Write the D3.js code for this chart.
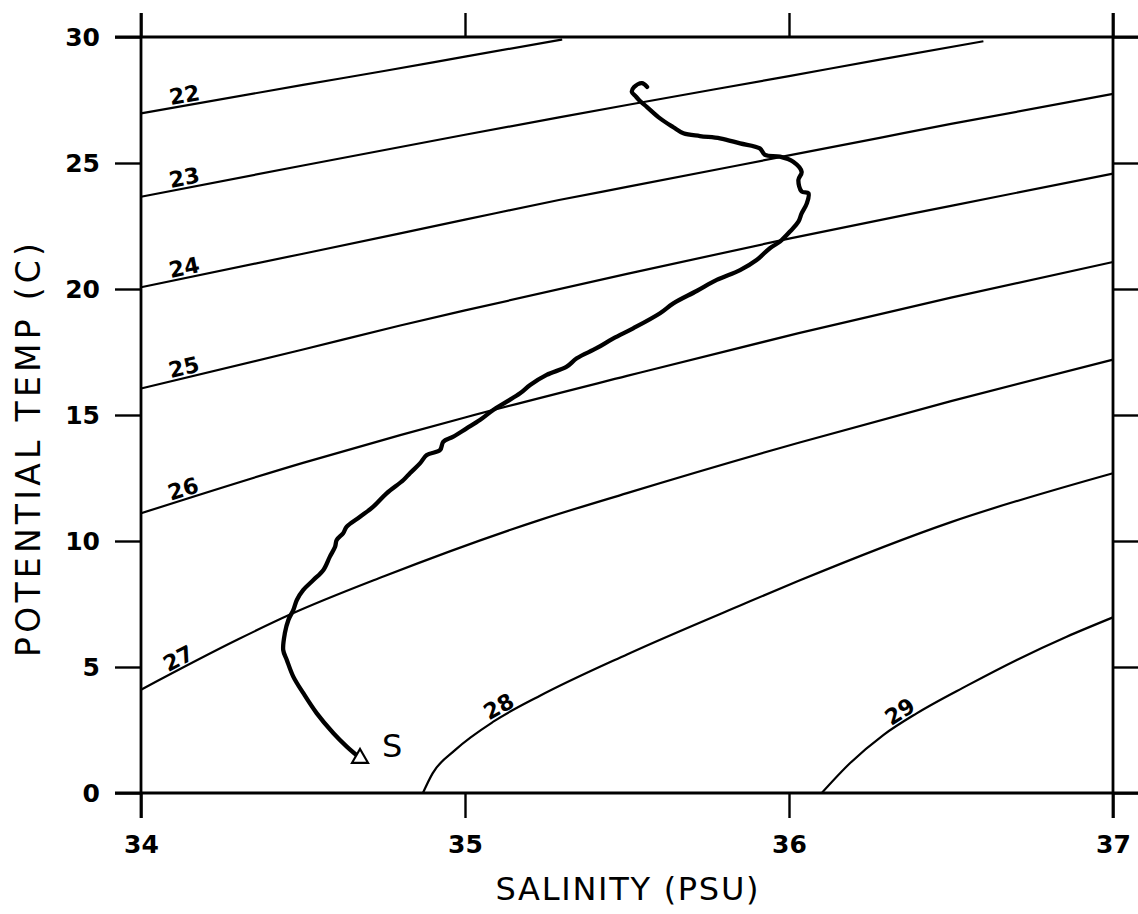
<!DOCTYPE html>
<html>
<head>
<meta charset="utf-8">
<script src="https://cdn.jsdelivr.net/npm/d3@7"></script>
<style>
  html, body { margin: 0; padding: 0; background: #fff; }
  svg { display: block; }
</style>
</head>
<body>
<svg id="chart" width="1138" height="914"></svg>
<script>
// ---------- data ----------
const salinityTicks = [34, 35, 36, 37];
const tempTicks = [0, 5, 10, 15, 20, 25, 30];
const sigmaLevels = [22, 23, 24, 25, 26, 27, 28, 29];

// isopycnal contours: [salinity, potential temperature]
const sigma22 = [[34, 26.97], [34.5, 28.1], [34.75, 28.65], [35, 29.22], [35.3, 29.9]];
const sigma23 = [[34, 23.66], [34.5, 24.9], [35, 26.12], [35.29, 26.81], [35.5, 27.3], [36, 28.45], [36.28, 29.1], [36.6, 29.83]];
const sigma24 = [[34, 20.07], [34.5, 21.4], [35, 22.75], [35.29, 23.53], [35.5, 24.05], [36, 25.3], [36.28, 26.0], [36.5, 26.55], [37, 27.74]];
const sigma25 = [[34, 16.05], [34.5, 17.6], [34.8, 18.55], [35, 19.15], [35.5, 20.6], [36, 22.0], [36.5, 23.3], [37, 24.58]];
const sigma26 = [[34, 11.1], [34.5, 13.1], [34.8, 14.2], [35, 14.9], [35.5, 16.55], [36.03, 18.25], [36.5, 19.66], [37, 21.07]];
const sigma27 = [[34, 4.1], [34.3, 6.1], [34.46, 7.08], [34.75, 8.6], [35.23, 10.83], [35.5, 11.9], [36.03, 13.9], [36.5, 15.55], [37, 17.2]];
const sigma28 = [[34.87, 0], [34.9, 0.78], [34.97, 1.71], [35.09, 2.85], [35.23, 3.85], [35.5, 5.5], [35.86, 7.5], [36.03, 8.42], [36.5, 10.75], [37, 12.69]];
const sigma29 = [[36.101, 0], [36.188, 1.18], [36.291, 2.3], [36.394, 3.16], [36.548, 4.25], [36.703, 5.28], [36.857, 6.2], [37, 6.97]];
const contours = [sigma22, sigma23, sigma24, sigma25, sigma26, sigma27, sigma28, sigma29];
const labelSalinity = [34.14, 34.14, 34.14, 34.14, 34.14, 34.13, 35.12, 36.36];

// T-S profile (salinity PSU, potential temperature C), surface hook to bottom
const profileSal = [35.562, 35.546, 35.522, 35.515, 35.528, 35.540, 35.561, 35.602, 35.643, 35.674, 35.725, 35.787,
  35.849, 35.910, 35.926, 35.972, 36.013, 36.039, 36.029, 36.039, 36.060, 36.055, 36.039, 36.029, 36.003, 35.972,
  35.941, 35.900, 35.849, 35.777, 35.715, 35.643, 35.602, 35.519, 35.458, 35.406, 35.345, 35.314, 35.252, 35.201,
  35.170, 35.129, 35.087, 35.046, 35.005, 34.964, 34.933, 34.923, 34.882, 34.861, 34.830, 34.810, 34.758, 34.717,
  34.676, 34.635, 34.624, 34.604, 34.599, 34.583, 34.563, 34.532, 34.501, 34.481, 34.470, 34.455, 34.444, 34.439,
  34.450, 34.470, 34.501, 34.542, 34.594, 34.635, 34.671];
const profileTemp = [28.02, 28.17, 28.02, 27.82, 27.63, 27.46, 27.23, 26.77, 26.42, 26.18, 26.07, 25.98,
  25.78, 25.58, 25.32, 25.25, 25.05, 24.65, 24.33, 23.87, 23.80, 23.40, 23.00, 22.67, 22.28, 21.88,
  21.62, 21.15, 20.75, 20.36, 19.92, 19.43, 19.04, 18.44, 18.04, 17.65, 17.25, 16.92, 16.59, 16.19,
  15.86, 15.53, 15.20, 14.80, 14.47, 14.14, 13.94, 13.61, 13.41, 13.08, 12.69, 12.42, 11.89, 11.36,
  10.96, 10.57, 10.31, 10.04, 9.77, 9.38, 8.85, 8.45, 8.06, 7.66, 7.26, 6.87, 6.34, 5.67,
  5.28, 4.62, 3.96, 3.17, 2.37, 1.84, 1.44];
const startSal = [34.676];
const startTemp = [1.38];
const startLabel = ["S"];
const xTitle = "SALINITY (PSU)";
const yTitle = "POTENTIAL TEMP (C)";

// ---------- drawing ----------
const svg = d3.select("#chart");
const FONT = "'DejaVu Sans', sans-serif";
const x = d3.scaleLinear().domain([34, 37]).range([141, 1113]);
const y = d3.scaleLinear().domain([0, 30]).range([793, 37]);

// contours
const cline = d3.line().x(d => x(d[0])).y(d => y(d[1])).curve(d3.curveMonotoneX);
svg.append("g").selectAll("path").data(contours).join("path")
  .attr("d", cline).attr("fill", "none").attr("stroke", "#000").attr("stroke-width", 2.2);

// contour labels
function pointAt(c, s) {
  for (let i = 0; i < c.length - 1; i++) {
    if (s >= c[i][0] && s <= c[i + 1][0]) {
      const t = (s - c[i][0]) / (c[i + 1][0] - c[i][0]);
      return { T: c[i][1] + t * (c[i + 1][1] - c[i][1]), i };
    }
  }
  return { T: c[0][1], i: 0 };
}
sigmaLevels.forEach((lev, k) => {
  const c = contours[k];
  const s = labelSalinity[k];
  const p = pointAt(c, s);
  const a = c[p.i], b = c[p.i + 1];
  const ang = Math.atan2(y(b[1]) - y(a[1]), x(b[0]) - x(a[0])) * 180 / Math.PI;
  svg.append("text")
    .attr("transform", `translate(${x(s)},${y(p.T)}) rotate(${ang})`)
    .attr("y", -3)
    .attr("text-anchor", "middle")
    .attr("font-family", FONT).attr("font-weight", "bold").attr("font-size", 22)
    .text(String(lev));
});

// profile
const pline = d3.line().x(d => x(d[0])).y(d => y(d[1])).curve(d3.curveCatmullRom.alpha(0.5));
svg.append("path")
  .datum(profileSal.map((s, i) => [s, profileTemp[i]]))
  .attr("d", pline).attr("fill", "none").attr("stroke", "#000")
  .attr("stroke-width", 4.3).attr("stroke-linejoin", "round").attr("stroke-linecap", "round");

// start triangle + label
svg.append("path")
  .attr("d", d3.symbol().type(d3.symbolTriangle).size(110))
  .attr("transform", `translate(${x(startSal[0])},${y(startTemp[0])})`)
  .attr("fill", "#fff").attr("stroke", "#000").attr("stroke-width", 2.2);
svg.append("text")
  .attr("x", x(startSal[0]) + 22).attr("y", y(startTemp[0]) - 1)
  .attr("font-family", FONT).attr("font-size", 32)
  .text(startLabel[0]);

// frame
const frame = svg.append("g").attr("stroke", "#000").attr("stroke-width", 2.8).attr("fill", "none");
frame.append("line").attr("x1", 115).attr("x2", 1138).attr("y1", y(30)).attr("y2", y(30));
frame.append("line").attr("x1", 115).attr("x2", 1138).attr("y1", y(0)).attr("y2", y(0));
frame.append("line").attr("x1", x(34)).attr("x2", x(34)).attr("y1", 13).attr("y2", 818);
frame.append("line").attr("x1", x(37)).attr("x2", x(37)).attr("y1", 13).attr("y2", 818);

// axes
function styleAxis(g) {
  g.select(".domain").remove();
  g.selectAll(".tick line").attr("stroke", "#000").attr("stroke-width", 2.4);
  g.selectAll("text").attr("font-family", FONT).attr("font-weight", "bold").attr("font-size", 25).attr("fill", "#000");
}
svg.append("g").attr("transform", `translate(0,${y(0)})`)
  .call(d3.axisBottom(x).tickValues(salinityTicks).tickSize(25).tickPadding(17).tickFormat(d3.format("d")))
  .call(styleAxis);
svg.append("g").attr("transform", `translate(0,${y(30)})`)
  .call(d3.axisTop(x).tickValues(salinityTicks).tickSize(24).tickFormat(""))
  .call(styleAxis);
svg.append("g").attr("transform", `translate(${x(34)},0)`)
  .call(d3.axisLeft(y).tickValues(tempTicks).tickSize(26).tickPadding(15).tickFormat(d3.format("d")))
  .call(styleAxis);
svg.append("g").attr("transform", `translate(${x(37)},0)`)
  .call(d3.axisRight(y).tickValues(tempTicks).tickSize(25).tickFormat(""))
  .call(styleAxis);

// titles
svg.append("text")
  .attr("x", 627).attr("y", 900)
  .attr("text-anchor", "middle")
  .attr("font-family", FONT).attr("font-size", 32)
  .attr("textLength", 263).attr("lengthAdjust", "spacing")
  .text(xTitle);
svg.append("text")
  .attr("transform", "translate(40,450) rotate(-90)")
  .attr("text-anchor", "middle")
  .attr("font-family", FONT).attr("font-size", 33)
  .attr("textLength", 414).attr("lengthAdjust", "spacing")
  .text(yTitle);
</script>
</body>
</html>
